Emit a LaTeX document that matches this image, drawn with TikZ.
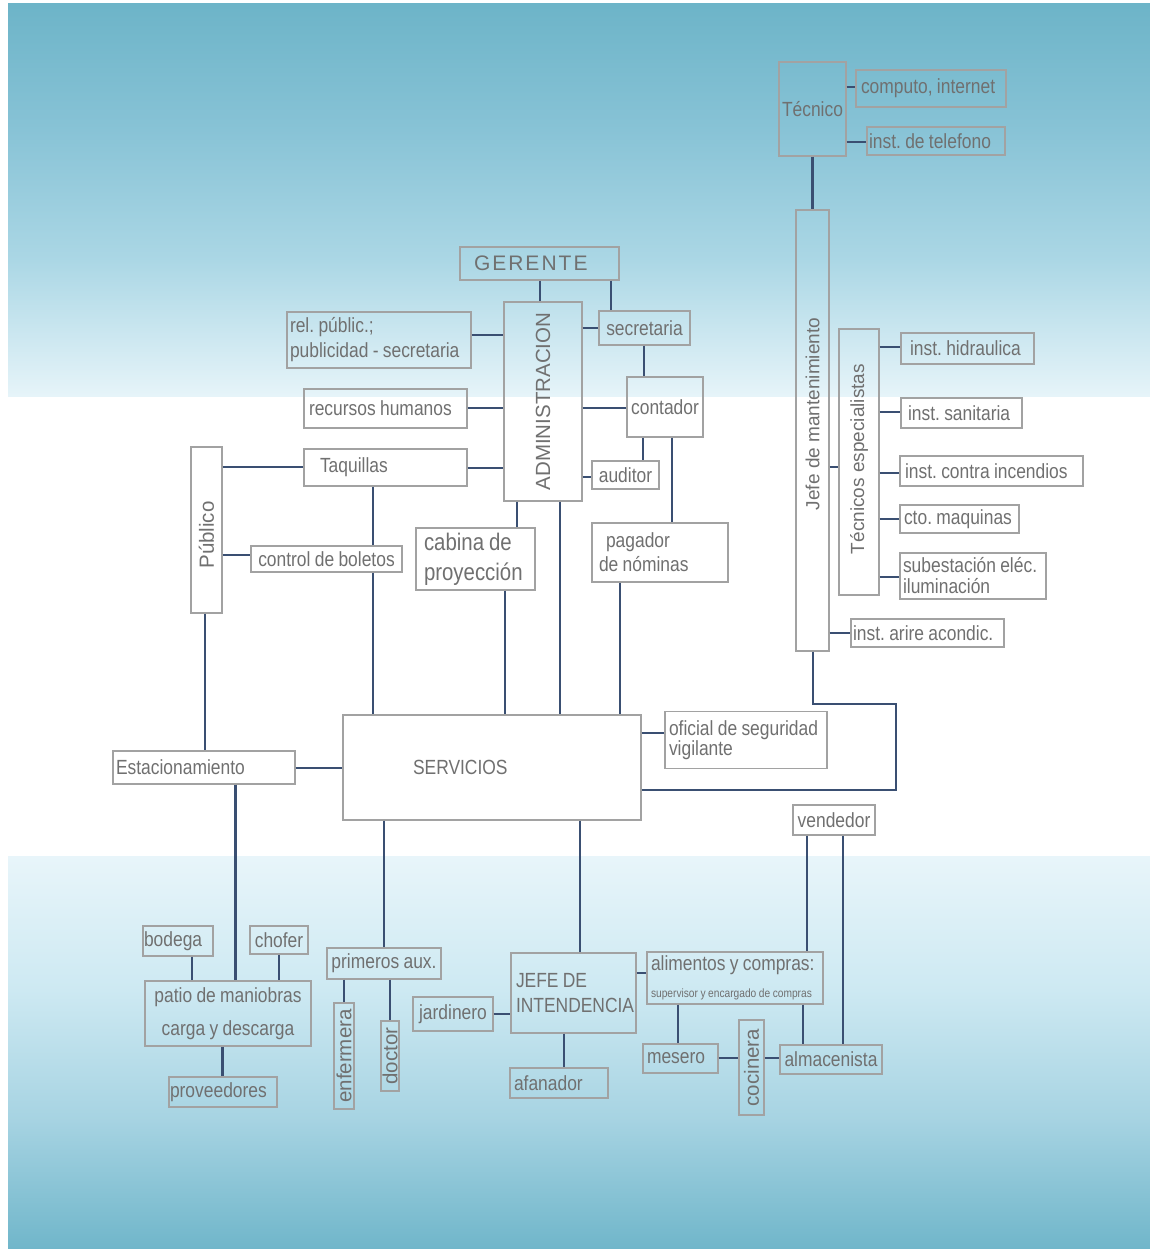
\documentclass[tikz,border=0pt]{standalone}
\usepackage{fontspec}
\setmainfont{Liberation Sans}
\newfontfamily\condfont{Liberation Sans}[FakeStretch=0.85]
\newfontfamily\plainfont{Liberation Sans}
\definecolor{txtgray}{HTML}{707070}
\definecolor{boxgray}{HTML}{A2A2A2}
\definecolor{linecol}{HTML}{3A4F72}
\definecolor{bgA}{HTML}{6DB4C8}
\definecolor{bgB}{HTML}{88C3D6}
\definecolor{bgC}{HTML}{ABD7E5}
\definecolor{bgD}{HTML}{E6F4F9}
\definecolor{bgE}{HTML}{E8F5FA}
\definecolor{bgF}{HTML}{CDE9F2}
\definecolor{bgG}{HTML}{A6D3E2}
\definecolor{bgH}{HTML}{70B6CA}
\newcommand\cf[2]{\condfont\fontsize{#1}{#2}\selectfont\spaceskip=0.21em\relax}
\newcommand\lab{\cf{20.5pt}{24pt}}
\newcommand\labr{\plainfont\fontsize{20.5pt}{24pt}\selectfont}
\newcommand\labrs{\plainfont\fontsize{19pt}{22pt}\selectfont}
\newcommand\gerfont{\plainfont\fontsize{21pt}{24pt}\selectfont}
\newcommand\nb[1]{\mbox{\spaceskip=0.21em\relax #1}}
\begin{document}
\frenchspacing
\begin{tikzpicture}[x=1pt,y=-1pt,
  box/.style={draw=boxgray, line width=1.3pt, inner sep=0pt, text=txtgray, font=\lab,
    execute at begin node={\frenchspacing\hyphenpenalty=10000\exhyphenpenalty=10000}},
  lt/.style={align=left, inner xsep=#1},
  con/.style={draw=linecol, line width=2.6pt}]
\useasboundingbox (0,0) rectangle (1150,1249);
\fill[white] (0,0) rectangle (1150,1249);
% background
\shade[top color=bgA, bottom color=bgB] (8,4) rectangle (1150,131);
\shade[top color=bgB, bottom color=bgC] (8,130) rectangle (1150,261);
\shade[top color=bgC, bottom color=bgD] (8,260) rectangle (1150,396);
\shade[top color=bgE, bottom color=bgF] (8,856) rectangle (1150,991);
\shade[top color=bgF, bottom color=bgG] (8,990) rectangle (1150,1121);
\shade[top color=bgG, bottom color=bgH] (8,1120) rectangle (1150,1249);

% ---- nodes
\node[box, minimum width=67pt, minimum height=94pt] (tec) at (812.5,109) {Técnico};
\node[box, minimum width=150pt, minimum height=37pt, lt=5pt, text width=140pt] (comp) at (931,88.5) {\nb{computo, internet}};
\node[box, minimum width=138pt, minimum height=28pt, lt=2pt, text width=134pt] (tel) at (936,141) {\nb{inst. de telefono}};
\node[box, minimum width=33pt, minimum height=441pt, font=\labrs] (jefe) at (812.5,430.5) {\rotatebox{90}{\hspace*{33pt}Jefe de mantenimiento}};
\node[box, minimum width=40pt, minimum height=266pt, font=\labrs] (tesp) at (859,462) {\rotatebox{90}{\hspace*{6pt}Técnicos especialistas}};
\node[box, minimum width=133pt, minimum height=31pt, lt=9pt, text width=115pt] (hid) at (967.5,348.5) {\nb{inst. hidraulica}};
\node[box, minimum width=121pt, minimum height=30pt, lt=7pt, text width=107pt] (san) at (961.5,413) {\nb{inst. sanitaria}};
\node[box, minimum width=183pt, minimum height=30pt, lt=5pt, text width=173pt] (inc) at (991.5,471) {\nb{inst. contra incendios}};
\node[box, minimum width=119pt, minimum height=28pt, lt=4pt, text width=111pt] (cto) at (959.5,519) {\nb{cto. maquinas}};
\node[box, minimum width=146pt, minimum height=46pt, lt=3pt, text width=140pt, font=\cf{20.5pt}{21pt}] (sub) at (973,576) {\nb{subestación eléc.}\\\nb{iluminación}};
\node[box, minimum width=153pt, minimum height=28pt, lt=2pt, text width=149pt] (aire) at (927.5,633) {\nb{inst. arire acondic.}};

\node[box, minimum width=159pt, minimum height=33pt, lt=14pt, text width=131pt, font=\gerfont] (ger) at (539.5,263.5) {G\kern2pt E\kern2pt R\kern2pt E\kern2pt N\kern2pt T\kern2pt E};
\node[box, minimum width=78pt, minimum height=199pt, font=\labr] (adm) at (543,401.5) {\rotatebox{90}{ADMINISTRACION}};
\node[box, minimum width=91pt, minimum height=34pt] (sec) at (644.5,328) {secretaria};
\node[box, minimum width=184pt, minimum height=56pt, lt=3pt, text width=178pt, font=\cf{20.5pt}{25pt}] (rel) at (379,340) {\nb{rel. públic.;}\\\nb{publicidad - secretaria}};
\node[box, minimum width=163pt, minimum height=39pt, lt=5pt, text width=153pt] (rh) at (385.5,408.5) {\nb{recursos humanos}};
\node[box, minimum width=76pt, minimum height=60pt] (cont) at (665,407) {contador};
\node[box, minimum width=163pt, minimum height=37pt, lt=16pt, text width=131pt] (taq) at (385.5,467.5) {Taquillas};
\node[box, minimum width=67pt, minimum height=28pt] (aud) at (625.5,475) {auditor};
\node[box, minimum width=31pt, minimum height=166pt, font=\labr] (pub) at (206.5,530) {\rotatebox{90}{Público\hspace*{10pt}}};
\node[box, minimum width=151pt, minimum height=26pt] (ctrl) at (326.5,559) {\nb{control de boletos}};
\node[box, minimum width=119pt, minimum height=62pt, lt=8pt, text width=103pt, font=\cf{24pt}{30pt}] (cab) at (475.5,559) {\nb{cabina de}\\\nb{proyección}};
\node[box, minimum width=136pt, minimum height=59pt, lt=7pt, text width=122pt, font=\cf{20.5pt}{24pt}] (pag) at (660,552.5) {\hspace*{7pt}pagador\\\nb{de nóminas}};

\node[box, minimum width=162pt, minimum height=57pt, lt=4pt, text width=154pt, font=\cf{20.5pt}{20pt}] (ofic) at (746,740) {\nb{oficial de seguridad}\\\nb{vigilante}};
\node[box, minimum width=298pt, minimum height=105pt, lt=70pt, text width=158pt] (serv) at (492,767.5) {SERVICIOS};
\node[box, minimum width=182pt, minimum height=33pt, lt=3pt, text width=176pt] (est) at (204,767.5) {Estacionamiento};
\node[box, minimum width=82pt, minimum height=30pt] (vend) at (834,820) {vendedor};

\node[box, minimum width=70pt, minimum height=30pt, lt=1pt, text width=68pt] (bod) at (178,941) {bodega};
\node[box, minimum width=58pt, minimum height=28pt] (chof) at (279,940) {chofer};
\node[box, minimum width=166pt, minimum height=65pt, align=center, font=\cf{20.5pt}{32.6pt}] (patio) at (228,1013.5) {\nb{patio de maniobras}\\\nb{carga y descarga}};
\node[box, minimum width=108pt, minimum height=30pt, lt=1pt, text width=106pt] (prov) at (223,1092) {proveedores};
\node[box, minimum width=114pt, minimum height=31pt] (prim) at (384,963.5) {\nb{primeros aux.}};
\node[box, minimum width=20pt, minimum height=106pt, font=\labr] (enf) at (344,1056) {\rotatebox{90}{enfermera}};
\node[box, minimum width=18pt, minimum height=70pt, font=\labr] (doc) at (390,1056) {\rotatebox{90}{doctor}};

\node[box, minimum width=125pt, minimum height=80pt, lt=5pt, text width=115pt, font=\cf{20.5pt}{25pt}] (jefi) at (573.5,993) {\nb{JEFE DE}\\\nb{INTENDENCIA}};
\node[box, minimum width=80pt, minimum height=34pt] (jard) at (453,1014) {jardinero};
\node[box, minimum width=98pt, minimum height=30pt, lt=4pt, text width=90pt] (afan) at (559,1083) {afanador};
\node[box, minimum width=176pt, minimum height=52pt, lt=4pt, text width=168pt] (alim) at (735,978) {\nb{alimentos y compras:}\\[2.5pt]\cf{12pt}{14pt}\nb{supervisor y encargado de compras}};
\node[box, minimum width=75pt, minimum height=29pt, lt=4pt, text width=67pt] (mes) at (680.5,1058.5) {mesero};
\node[box, minimum width=25pt, minimum height=95pt, font=\labr] (coc) at (751.5,1067.5) {\rotatebox{90}{cocinera}};
\node[box, minimum width=102pt, minimum height=29pt] (alm) at (831,1059.5) {almacenista};

% ---- connectors
\draw[con] (tec.south) -- (jefe.north);
\draw[con] (tec.east |- 0,87) -- (comp.west |- 0,87);
\draw[con] (tec.east |- 0,142) -- (tel.west |- 0,142);
\draw[con] (jefe.east |- 0,467) -- (tesp.west |- 0,467);
\draw[con] (tesp.east |- 0,347) -- (hid.west |- 0,347);
\draw[con] (tesp.east |- 0,412) -- (san.west |- 0,412);
\draw[con] (tesp.east |- 0,473) -- (inc.west |- 0,473);
\draw[con] (tesp.east |- 0,519) -- (cto.west |- 0,519);
\draw[con] (tesp.east |- 0,577) -- (sub.west |- 0,577);
\draw[con] (jefe.east |- 0,633) -- (aire.west |- 0,633);
\draw[con, line width=2pt] (jefe.south) -- ++(0,52) -| (896,790) -- (serv.east |- 0,790);

\draw[con] (ger.south -| 540,0) -- (adm.north -| 540,0);
\draw[con] (ger.south -| 611,0) -- (sec.north -| 611,0);
\draw[con] (adm.east |- 0,328) -- (sec.west |- 0,328);
\draw[con] (rel.east |- 0,335) -- (adm.west |- 0,335);
\draw[con] (rh.east |- 0,408) -- (adm.west |- 0,408);
\draw[con] (adm.east |- 0,408) -- (cont.west |- 0,408);
\draw[con] (sec.south -| 644,0) -- (cont.north -| 644,0);
\draw[con] (taq.east |- 0,468) -- (adm.west |- 0,468);
\draw[con] (adm.east |- 0,477) -- (aud.west |- 0,477);
\draw[con] (cont.south -| 643,0) -- (aud.north -| 643,0);
\draw[con] (cont.south -| 672,0) -- (pag.north -| 672,0);
\draw[con] (pub.east |- 0,467) -- (taq.west |- 0,467);
\draw[con] (pub.east |- 0,555) -- (ctrl.west |- 0,555);
\draw[con] (taq.south -| 373,0) -- (ctrl.north -| 373,0);
\draw[con] (ctrl.south -| 373,0) -- (serv.north -| 373,0);
\draw[con] (adm.south -| 517,0) -- (cab.north -| 517,0);
\draw[con] (cab.south -| 505,0) -- (serv.north -| 505,0);
\draw[con] (adm.south -| 560,0) -- (serv.north -| 560,0);
\draw[con] (pag.south -| 620,0) -- (serv.north -| 620,0);
\draw[con] (pub.south -| 205,0) -- (est.north -| 205,0);
\draw[con] (est.east |- 0,768) -- (serv.west |- 0,768);
\draw[con] (serv.east |- 0,733) -- (ofic.west |- 0,733);
\draw[con] (est.south -| 235.5,0) -- (patio.north -| 235.5,0);
\draw[con] (bod.south -| 192,0) -- (patio.north -| 192,0);
\draw[con] (chof.south -| 279,0) -- (patio.north -| 279,0);
\draw[con] (patio.south -| 222.7,0) -- (prov.north -| 222.7,0);
\draw[con] (serv.south -| 384,0) -- (prim.north -| 384,0);
\draw[con] (prim.south -| 344,0) -- (enf.north -| 344,0);
\draw[con] (prim.south -| 390,0) -- (doc.north -| 390,0);
\draw[con] (serv.south -| 580,0) -- (jefi.north -| 580,0);
\draw[con] (jard.east |- 0,1014) -- (jefi.west |- 0,1014);
\draw[con] (jefi.south -| 564,0) -- (afan.north -| 564,0);
\draw[con] (jefi.east |- 0,973) -- (alim.west |- 0,973);
\draw[con] (alim.south -| 678,0) -- (mes.north -| 678,0);
\draw[con] (mes.east |- 0,1058) -- (coc.west |- 0,1058);
\draw[con] (coc.east |- 0,1058) -- (alm.west |- 0,1058);
\draw[con] (alim.south -| 803,0) -- (alm.north -| 803,0);
\draw[con] (vend.south -| 807,0) -- (alim.north -| 807,0);
\draw[con] (vend.south -| 843,0) -- (alm.north -| 843,0);
\end{tikzpicture}
\end{document}
